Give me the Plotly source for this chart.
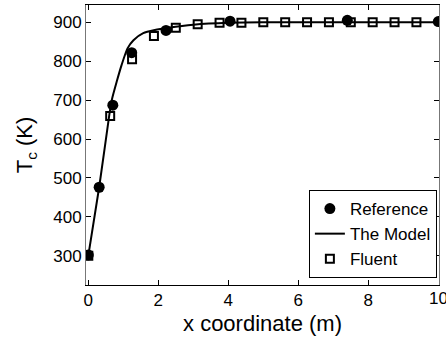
import plotly.graph_objects as go

ref_x = [0.0, 0.31, 0.70, 1.24, 2.22, 4.05, 7.40, 10.0]
ref_y = [302, 476, 687, 822, 879, 903, 905, 902]

model_x = [0.0, 0.31, 0.60, 0.67, 0.81, 0.95, 1.12, 1.29, 1.57, 1.90, 2.29, 3.0, 4.0, 5.0, 7.0, 10.0]
model_y = [300, 476, 662, 700, 747, 790, 833, 854, 872, 880, 886, 894, 899, 900, 900, 900]

fluent_x = [0.0, 0.625, 1.25, 1.875, 2.5, 3.125, 3.75, 4.375, 5.0, 5.625, 6.25, 6.875, 7.5, 8.125, 8.75, 9.375]
fluent_y = [300, 659, 805, 865, 886, 895, 899, 899, 900, 900, 900, 900, 900, 900, 900, 900]

x_ticks = [0, 2, 4, 6, 8]
x_edge_tick = 10
y_ticks = [300, 400, 500, 600, 700, 800, 900]

font = "Liberation Sans, Arial, sans-serif"

fig = go.Figure()
fig.add_trace(go.Scatter(x=ref_x, y=ref_y, mode="markers", name="Reference",
                         marker=dict(symbol="circle", size=11, color="black")))
fig.add_trace(go.Scatter(x=model_x, y=model_y, mode="lines", name="The Model",
                         line=dict(color="black", width=2, shape="spline", smoothing=0.6)))
fig.add_trace(go.Scatter(x=fluent_x, y=fluent_y, mode="markers", name="Fluent",
                         marker=dict(symbol="square-open", size=8, color="black",
                                     line=dict(width=2, color="black"))))

fig.update_layout(
    width=446, height=338,
    margin=dict(l=86, r=7, t=5, b=53),
    paper_bgcolor="white", plot_bgcolor="white",
    font=dict(family=font, size=17, color="black"),
    showlegend=True,
    legend=dict(x=0.994, y=0.025, xanchor="right", yanchor="bottom",
                bgcolor="white", bordercolor="black", borderwidth=1,
                font=dict(size=17), tracegroupgap=0, itemwidth=30),
)
fig.add_annotation(x=x_edge_tick, xref="x", y=0, yref="paper", yanchor="top",
                   text=str(x_edge_tick), showarrow=False, yshift=-2,
                   font=dict(size=17, family=font, color="black"))
fig.update_xaxes(range=[-0.066, 10.02], tickvals=x_ticks,
                 ticks="inside", ticklen=5, tickcolor="black", mirror="ticks",
                 showline=True, linecolor="black", linewidth=1, showgrid=False, zeroline=False,
                 title=dict(text="x coordinate (m)", font=dict(size=22), standoff=6),
                 tickfont=dict(size=17))
fig.update_yaxes(range=[224.7, 944.5], tickvals=y_ticks,
                 ticks="inside", ticklen=5, tickcolor="black", mirror="ticks",
                 showline=True, linecolor="#777777", linewidth=1, showgrid=False, zeroline=False,
                 title=dict(text="T<sub>c</sub> (K)", font=dict(size=22), standoff=14),
                 tickfont=dict(size=17))

fig.write_html("out.html")
